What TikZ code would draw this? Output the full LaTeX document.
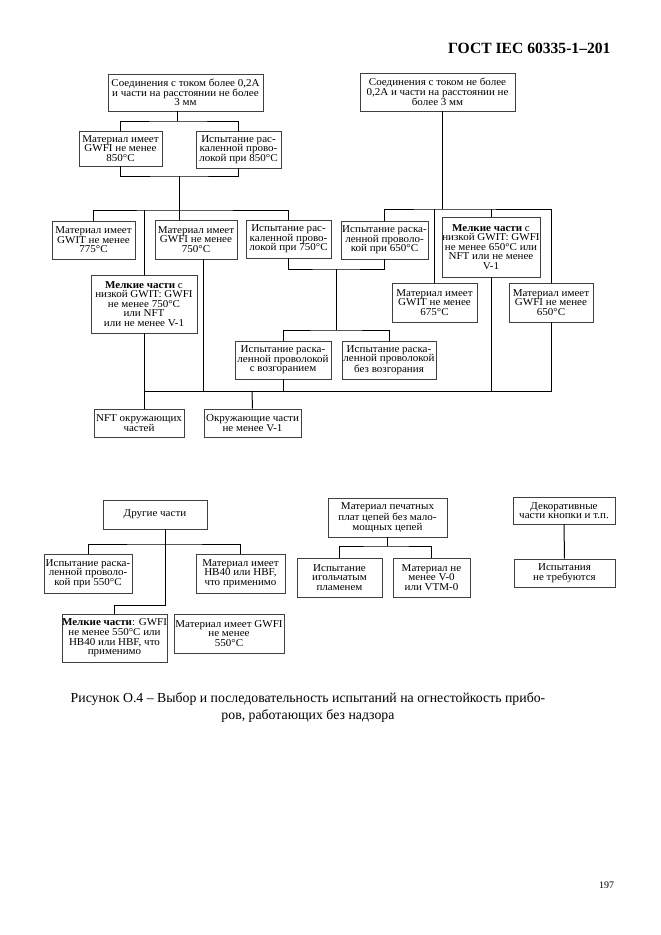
\documentclass[tikz,border=0pt]{standalone}
\usepackage{fontspec}
\setmainfont{Liberation Serif}
\newfontfamily\boxserif{Liberation Serif}[FakeStretch=1.05]
\usetikzlibrary{positioning}

\newcommand{\boxfont}{\boxserif\fontsize{10.5}{9.6}\selectfont}

\begin{document}
\begin{tikzpicture}[x=1pt,y=-1pt,
    box/.style={draw=black!75,line width=0.6pt,align=center,inner xsep=0pt,inner ysep=1pt,font=\boxfont},
    link/.style={black,line width=1pt}]
  \useasboundingbox (0,0) rectangle (661,935);
  \node[anchor=base east,font=\fontsize{15.6}{18}\selectfont\bfseries] (HEAD) at (614,53) {ГОСТ IEC 60335-1–201};

  %%%%% TOP-LEFT TREE
  \node[box,minimum width=155,minimum height=37] (A) at (185.5,92.5)
    {Соединения с током более 0,2А\\и части на расстоянии не более\\3 мм};
  \node[box,minimum width=83,minimum height=35] (B) at (120.5,148.5)
    {Материал имеет\\GWFI не менее\\850°C};
  \node[box,minimum width=85,minimum height=37] (C) at (238.5,149.5)
    {Испытание рас-\\каленной прово-\\локой при 850°C};
  \node[box,minimum width=83,minimum height=38] (D) at (93.5,240)
    {Материал имеет\\GWIT не менее\\775°C};
  \node[box,minimum width=82,minimum height=39] (E) at (196,239.5)
    {Материал имеет\\GWFI не менее\\750°C};
  \node[box,minimum width=85,minimum height=38] (F) at (288.5,239)
    {Испытание рас-\\каленной прово-\\локой при 750°C};
  \node[box,minimum width=106,minimum height=58] (G) at (144,304)
    {\textbf{Мелкие части} с\\низкой GWIT: GWFI\\не менее 750°C\\или NFT\\или не менее V-1};

  %%%%% TOP-RIGHT TREE
  \node[box,minimum width=155,minimum height=38] (K) at (437.5,92)
    {Соединения с током не более\\0,2А и части на расстоянии не\\более 3 мм};
  \node[box,minimum width=87,minimum height=38] (H) at (384.5,240)
    {Испытание раска-\\ленной проволо-\\кой при 650°C};
  \node[box,minimum width=98,minimum height=60] (N) at (491,247)
    {\textbf{Мелкие части} с\\низкой GWIT: GWFI\\не менее 650°C или\\NFT или не менее\\V-1};
  \node[box,minimum width=85,minimum height=39] (M) at (434.5,302.5)
    {Материал имеет\\GWIT не менее\\675°C};
  \node[box,minimum width=84,minimum height=39] (L) at (551,302.5)
    {Материал имеет\\GWFI не менее\\650°C};

  %%%%% GLOW-WIRE TESTS AND SURROUNDINGS
  \node[box,minimum width=96,minimum height=38] (I) at (283,360)
    {Испытание раска-\\ленной проволокой\\с возгоранием};
  \node[box,minimum width=94,minimum height=38] (J) at (389,360)
    {Испытание раска-\\ленной проволокой\\без возгорания};
  \node[box,minimum width=90,minimum height=28] (O1) at (139,423)
    {NFT окружающих\\частей};
  \node[box,minimum width=97,minimum height=28] (O2) at (252.5,423)
    {Окружающие части\\не менее V-1};

  % Links of the upper diagram
  \coordinate (jA) at (177,121);
  \coordinate (jBC) at (179,176);
  \coordinate (j1) at (179,210);
  \draw[link] (A.south -| jA) -- (jA);
  \draw[link] (B.north) |- (jA) -| (C.north);
  \draw[link] (B.south) |- (jBC) -| (C.south);
  \draw[link] (jBC) -- (E.north -| jBC);
  \draw[link] (D.north) |- (j1) -| (F.north);
  \draw[link] (j1 -| G.north) -- (G.north);
  \coordinate (jFH) at (336,269);
  \coordinate (jIJ) at (336,330);
  \draw[link] (F.south) |- (jFH) -| (H.south);
  \draw[link] (jFH) -- (jIJ);
  \draw[link] (I.north) |- (jIJ) -| (J.north);
  \coordinate (jK) at (442,209);
  \draw[link] (K.south -| jK) -- (jK);
  \draw[link] (H.north) |- (jK) -| (L.north);
  \draw[link] (jK -| M.north) -- (M.north);
  \draw[link] (jK -| N.north) -- (N.north);
  \coordinate (jB) at (252,391);
  \draw[link] (G.south) -- (G.south |- O1.north);
  \draw[link] (G.south |- jB) -| (L.south);
  \draw[link] ([xshift=7]E.south) -- ([xshift=7]E.south |- jB);
  \draw[link] (I.south) -- (I.south |- jB);
  \draw[link] (N.south) -- (N.south |- jB);
  \draw[link] (jB) -- (O2.north);

  %%%%% LOWER DIAGRAMS
  \node[box,minimum width=104,minimum height=29] (P) at (155,514.5) {Другие части};
  \node[box,minimum width=88,minimum height=39] (Q) at (88,573.5)
    {Испытание раска-\\ленной проволо-\\кой при 550°C};
  \node[box,minimum width=89,minimum height=39] (R) at (240.5,573.5)
    {Материал имеет\\HB40 или HBF,\\что применимо};
  \node[box,minimum width=105,minimum height=48] (S) at (114.5,638)
    {\textbf{Мелкие части}: GWFI\\не менее 550°C или\\HB40 или HBF, что\\применимо};
  \node[box,minimum width=110,minimum height=39] (T) at (229,633.5)
    {Материал имеет GWFI\\не менее\\550°C};
  \node[box,minimum width=119,minimum height=39] (U) at (387.5,517.5)
    {Материал печатных\\плат цепей без мало-\\мощных цепей};
  \node[box,minimum width=85,minimum height=39] (V) at (339.5,577.5)
    {Испытание\\игольчатым\\пламенем};
  \node[box,minimum width=77,minimum height=39] (W) at (431.5,577.5)
    {Материал не\\менее V-0\\или VTM-0};
  \node[box,minimum width=102,minimum height=27] (X) at (564,510.5)
    {Декоративные\\части кнопки и т.п.};
  \node[box,minimum width=101,minimum height=28] (Y) at (564.5,573)
    {Испытания\\не требуются};

  % Links of the lower diagrams
  \coordinate (jP) at (165,544);
  \coordinate (jS) at (165,605);
  \draw[link] (P.south -| jP) -- (jS) -| (S.north);
  \draw[link] (Q.north) |- (jP) -| (R.north);
  \coordinate (jU) at (387,546);
  \draw[link] (U.south) -- (U.south |- jU);
  \draw[link] (V.north) |- (jU) -| (W.north);
  \draw[link] (X.south) -- (Y.north);

  %%%%% CAPTION
  \node[align=center,font=\fontsize{13.8}{17}\selectfont] (CAP) at (308,708)
    {Рисунок О.4 – Выбор и последовательность испытаний на огнестойкость прибо-\\ров, работающих без надзора};
  \node[anchor=base,font=\fontsize{10}{12}\selectfont] (PAGE) at (606.5,888) {197};
\end{tikzpicture}
\end{document}
